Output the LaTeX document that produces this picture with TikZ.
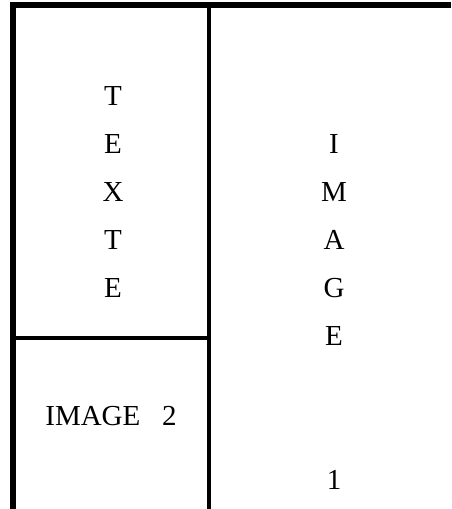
\documentclass[tikz,border=0pt]{standalone}
\usepackage{fontspec}
\setmainfont{Liberation Serif}
\begin{document}
\begin{tikzpicture}[x=1pt,y=-1pt,
  rulefill/.style={fill=black},
  lbl/.style={inner sep=0pt, anchor=center, font=\fontsize{29}{29}\selectfont}]
\useasboundingbox (0,0) rectangle (451,509);
% table rules
\fill[rulefill] (10,2) rectangle (451,7.5);
\fill[rulefill] (10,2) rectangle (16,509);
\fill[rulefill] (207,2) rectangle (211,509);
\fill[rulefill] (16,336) rectangle (207,340);
% left column: TEXTE
\node[lbl] (l1) at (113,96) {T};
\node[lbl] (l2) at (113,144) {E};
\node[lbl] (l3) at (113,192) {X};
\node[lbl] (l4) at (113,240) {T};
\node[lbl] (l5) at (113,288) {E};
% IMAGE 2
\node[lbl] (img2) at (111,416) {IMAGE\ \ \ 2};
% right column: IMAGE 1
\node[lbl] (r1) at (334,144) {I};
\node[lbl] (r2) at (334,192) {M};
\node[lbl] (r3) at (334,240) {A};
\node[lbl] (r4) at (334,288) {G};
\node[lbl] (r5) at (334,336) {E};
\node[lbl] (r6) at (334,480) {1};
\end{tikzpicture}
\end{document}
